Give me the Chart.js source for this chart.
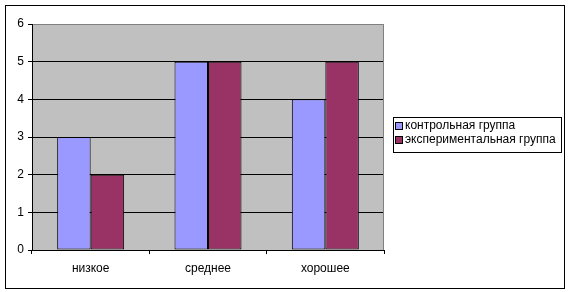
<!DOCTYPE html>
<html>
<head>
<meta charset="utf-8">
<script src="https://cdn.jsdelivr.net/npm/chart.js@4"></script>
<style>
html,body{margin:0;padding:0;background:#fff;}
#wrap{width:570px;height:292px;position:relative;}
</style>
</head>
<body>
<div id="wrap"><canvas id="c" width="570" height="292"></canvas></div>
<script>
const categories = ['низкое', 'среднее', 'хорошее'];
const seriesNames = ['контрольная группа', 'экспериментальная группа'];
const controlValues = [3, 5, 4];
const experimentalValues = [2, 5, 5];
const yTicks = [0, 1, 2, 3, 4, 5, 6];
const seriesColors = ['#9999FF', '#993366'];

const FONT = 'Liberation Sans, Arial, sans-serif';

const framePlugin = {
  id: 'frame',
  beforeDraw(chart) {
    const ctx = chart.ctx, a = chart.chartArea;
    ctx.save();
    ctx.fillStyle = '#fff';
    ctx.fillRect(0, 0, chart.width, chart.height);
    ctx.fillStyle = '#C0C0C0';
    ctx.fillRect(a.left, a.top, a.right - a.left, a.bottom - a.top);
    ctx.strokeStyle = '#000';
    ctx.lineWidth = 1;
    ctx.strokeRect(5.5, 5.5, 559, 283);
    ctx.restore();
  },
  afterDraw(chart) {
    const ctx = chart.ctx, a = chart.chartArea;
    ctx.save();
    ctx.strokeStyle = '#808080';
    ctx.lineWidth = 1;
    ctx.beginPath();
    ctx.moveTo(Math.round(a.right) - 0.5, a.top);
    ctx.lineTo(Math.round(a.right) - 0.5, a.bottom);
    ctx.stroke();
    // legend
    ctx.strokeStyle = '#000';
    ctx.strokeRect(393.5, 117.5, 168, 35);
    ctx.font = '12px ' + FONT;
    ctx.textBaseline = 'middle';
    ctx.textAlign = 'left';
    chart.data.datasets.forEach((ds, i) => {
      const y = 125.5 + i * 14.5;
      ctx.fillStyle = ds.backgroundColor;
      ctx.fillRect(396, Math.round(y) - 3, 6, 6);
      ctx.strokeStyle = '#000';
      ctx.strokeRect(395.5, Math.round(y) - 3.5, 7, 7);
      ctx.fillStyle = '#000';
      ctx.fillText(ds.label, 405, y);
    });
    ctx.restore();
  }
};

new Chart(document.getElementById('c'), {
  type: 'bar',
  data: {
    labels: categories,
    datasets: [
      { label: seriesNames[0], data: controlValues, backgroundColor: seriesColors[0], borderColor: '#000', borderWidth: 1, borderSkipped: false },
      { label: seriesNames[1], data: experimentalValues, backgroundColor: seriesColors[1], borderColor: '#000', borderWidth: 1, borderSkipped: false }
    ]
  },
  options: {
    responsive: false,
    animation: false,
    devicePixelRatio: 1,
    layout: { padding: { left: 5, top: 24, right: 186, bottom: 4 } },
    datasets: { bar: { categoryPercentage: 0.571, barPercentage: 1 } },
    plugins: { legend: { display: false }, tooltip: { enabled: false } },
    scales: {
      x: {
        offset: true,
        grid: { offset: true, drawOnChartArea: false, color: '#000', tickLength: 4 },
        border: { color: '#000' },
        ticks: { color: '#000', font: { family: FONT, size: 12 }, padding: 7 },
        afterFit: s => { s.height = 38; }
      },
      y: {
        min: 0, max: 6,
        afterBuildTicks: s => { s.ticks = yTicks.map(v => ({ value: v })); },
        grid: { color: ctx => (ctx.tick && ctx.tick.value === 6) ? '#808080' : '#000', tickColor: '#000', tickLength: 4 },
        border: { color: '#000' },
        ticks: { color: '#000', font: { family: FONT, size: 12 }, padding: 4 },
        afterFit: s => { s.width = 27; }
      }
    }
  },
  plugins: [framePlugin]
});
</script>
</body>
</html>
